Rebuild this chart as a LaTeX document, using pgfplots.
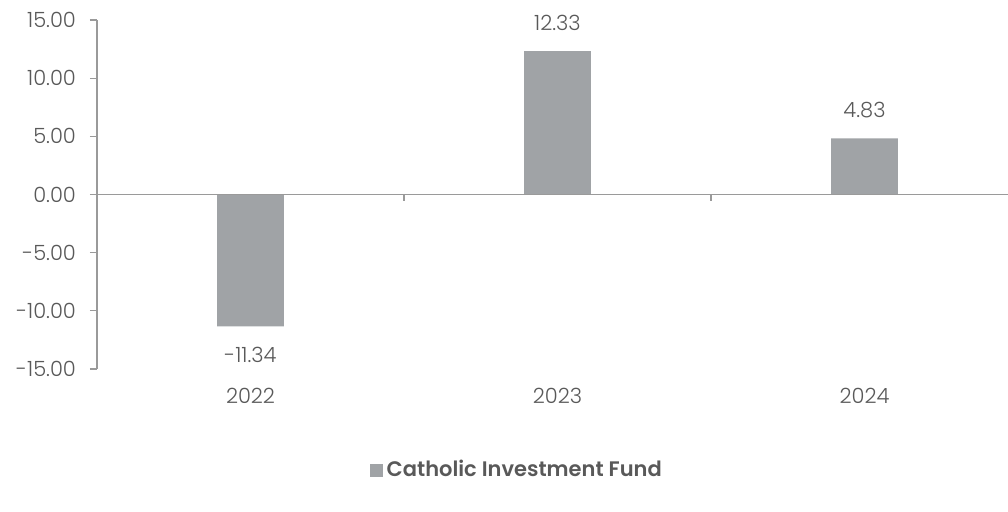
\documentclass[border=0pt]{standalone}
\usepackage{pgfplots}
\pgfplotsset{compat=1.18}
\usepackage{fontspec}
\setmainfont{Poppins}[UprightFont=* Light, BoldFont=* SemiBold]
\definecolor{barcol}{HTML}{A0A3A6}
\definecolor{txtcol}{HTML}{595959}
\definecolor{axcol}{HTML}{9A9A9A}
\tikzset{twodec/.style={/pgf/number format/fixed, /pgf/number format/fixed zerofill,
  /pgf/number format/precision=2, /pgf/number format/assume math mode=true}}
\begin{document}
\begin{tikzpicture}
\begin{axis}[
  scale only axis,
  width=455.5pt, height=174.5pt,
  xmin=-0.5, xmax=2.4674,
  ymin=-15, ymax=15,
  axis x line=none,
  axis y line*=left,
  y axis line style={draw=axcol, line width=0.6pt},
  ytick={-15,-10,...,15},
  ytick style={draw=axcol, line width=0.6pt},
  tick align=outside,
  major tick length=3.5pt,
  yticklabel style={font=\fontsize{10.5}{12}\selectfont, text=txtcol, twodec, xshift=-3.5pt},
  ybar, bar width=0.218,
  xtick={0,1,2},
  nodes near coords,
  nodes near coords style={font=\fontsize{10.5}{12}\selectfont, text=txtcol, twodec, inner ysep=10pt},
  legend style={draw=none, at={(0.462,-0.29)}, anchor=center,
    font=\fontsize{10.5}{12}\selectfont\bfseries, text=txtcol,
    legend cell align=left},
  legend image code/.code={\fill[barcol] (0pt,-3.2pt) rectangle (6.4pt,3.2pt);},
  clip=false,
]
\addplot[fill=barcol, draw=none] coordinates {(0,-11.34) (1,12.33) (2,4.83)};
\addlegendentry{Catholic Investment Fund}
\draw[axcol, line width=0.6pt] (axis cs:-0.5,0) -- (axis cs:2.4674,0);
\draw[axcol, line width=0.6pt] (axis cs:0.5,0) -- ++(0pt,-3.5pt);
\draw[axcol, line width=0.6pt] (axis cs:1.5,0) -- ++(0pt,-3.5pt);
\node[font=\fontsize{10.5}{12}\selectfont, text=txtcol] at (axis cs:0,-15) [yshift=-13.5pt] {2022};
\node[font=\fontsize{10.5}{12}\selectfont, text=txtcol] at (axis cs:1,-15) [yshift=-13.5pt] {2023};
\node[font=\fontsize{10.5}{12}\selectfont, text=txtcol] at (axis cs:2,-15) [yshift=-13.5pt] {2024};
\end{axis}
\pgfresetboundingbox
\path[use as bounding box] (-48.5pt,-71.5pt) rectangle (455.5pt,184.5pt);
\end{tikzpicture}
\end{document}
